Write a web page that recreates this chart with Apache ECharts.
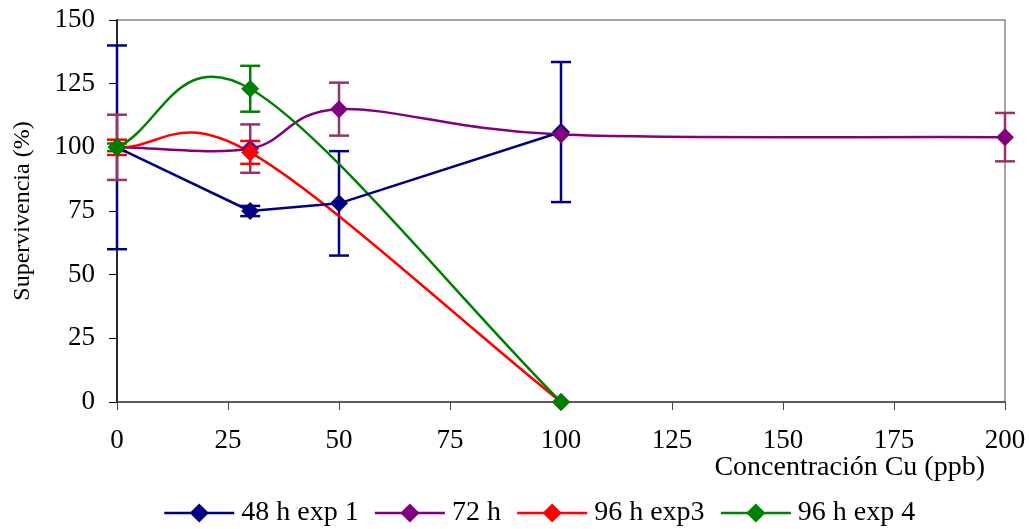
<!DOCTYPE html>
<html>
<head>
<meta charset="utf-8">
<script src="https://cdn.jsdelivr.net/npm/echarts@6/dist/echarts.min.js"></script>
<style>
  html, body { margin: 0; padding: 0; background: #fff; }
  #chart { width: 1029px; height: 529px; }
</style>
</head>
<body>
<div id="chart"></div>
<script>
// concentraciones (ppb) y supervivencia (%)
var conc48 = [0, 30, 50, 100]
var surv48 = [100, 75, 78, 106]
var err48 = [40, 2, 20.5, 27.5]

var conc72 = [0, 30, 50, 100, 200]
var surv72 = [100, 99.5, 115, 105, 104]
var err72 = [12.8, 9.5, 10.4, 0, 9.5]

var conc96a = [0, 30, 100]
var surv96a = [100, 98, 0]
var err96a = [3, 4.5, 0]

var conc96b = [0, 30, 100]
var surv96b = [100, 123, 0]
var err96b = [1.5, 9, 0]

var names = ['48 h exp 1', '72 h', '96 h exp3', '96 h exp 4']
var colors = ['#000080', '#800080', '#ff0000', '#008000']
var errColors = ['#000080', '#993366', '#ff0000', '#008000']

var FONT = '"Liberation Serif", "Times New Roman", serif'

function pairs(xs, ys) {
  return xs.map(function (x, i) { return [x, ys[i]] })
}
function errData(xs, ys, es) {
  var out = []
  for (var i = 0; i < xs.length; i++) {
    if (es[i] > 0) out.push([xs[i], ys[i] - es[i], ys[i] + es[i]])
  }
  return out
}

// barras de error
function errSeries(data, color) {
  return {
    type: 'custom',
    silent: true,
    z: 1,
    encode: { x: 0, y: [1, 2] },
    renderItem: function (params, api) {
      var x = api.value(0)
      var lo = api.coord([x, api.value(1)])
      var hi = api.coord([x, api.value(2)])
      var w = 10
      var st = { stroke: color, lineWidth: 2.5 }
      return {
        type: 'group',
        children: [
          { type: 'line', shape: { x1: lo[0], y1: lo[1], x2: hi[0], y2: hi[1] }, style: st },
          { type: 'line', shape: { x1: lo[0] - w, y1: lo[1], x2: lo[0] + w, y2: lo[1] }, style: st },
          { type: 'line', shape: { x1: hi[0] - w, y1: hi[1], x2: hi[0] + w, y2: hi[1] }, style: st }
        ]
      }
    },
    data: data
  }
}

// curva suavizada tipo Excel (bezier por tramo)
function curveSeries(data, color) {
  return {
    type: 'custom',
    silent: true,
    z: 2,
    clip: false,
    encode: { x: 0, y: 1 },
    renderItem: function (params, api) {
      var i = params.dataIndex
      var n = data.length
      if (i >= n - 1) return null
      var p = data.map(function (d) { return api.coord(d) })
      var p1 = p[i], p2 = p[i + 1]
      var t1, t2
      if (i > 0) t1 = [(p2[0] - p[i - 1][0]) / 6, (p2[1] - p[i - 1][1]) / 6]
      else t1 = [(p2[0] - p1[0]) / 3, (p2[1] - p1[1]) / 3]
      if (i + 2 < n) t2 = [(p[i + 2][0] - p1[0]) / 6, (p[i + 2][1] - p1[1]) / 6]
      else t2 = [(p2[0] - p1[0]) / 3, (p2[1] - p1[1]) / 3]
      return {
        type: 'bezierCurve',
        shape: {
          x1: p1[0], y1: p1[1], x2: p2[0], y2: p2[1],
          cpx1: p1[0] + t1[0], cpy1: p1[1] + t1[1],
          cpx2: p2[0] - t2[0], cpy2: p2[1] - t2[1]
        },
        style: { stroke: color, lineWidth: 2.5, fill: 'none' }
      }
    },
    data: data
  }
}

function lineSeries(name, data, color, showLine) {
  return {
    name: name,
    type: 'line',
    data: data,
    symbol: 'diamond',
    symbolSize: 18,
    z: 3,
    itemStyle: { color: color },
    lineStyle: { color: color, width: 2.5, opacity: showLine ? 1 : 0 }
  }
}

var chart = echarts.init(document.getElementById('chart'))

var option = {
  animation: false,
  backgroundColor: '#fff',
  grid: {
    left: 117, right: 24, top: 20, bottom: 127,
    show: true, borderColor: '#888', borderWidth: 1.5
  },
  legend: {
    top: 499,
    left: 163,
    padding: 0,
    itemWidth: 70,
    itemHeight: 24,
    itemGap: 15,
    textStyle: { fontFamily: FONT, fontSize: 28, color: '#000', padding: [0, 0, 0, 2] },
    data: names.map(function (nm, i) {
      return { name: nm, lineStyle: { color: colors[i], width: 2.5, opacity: 1 } }
    })
  },
  xAxis: {
    type: 'value',
    min: 0, max: 200, interval: 25,
    name: 'Concentración Cu (ppb)',
    nameLocation: 'end',
    nameGap: 0,
    nameTextStyle: {
      fontFamily: FONT, fontSize: 28, color: '#000',
      align: 'right', verticalAlign: 'top', padding: [52, 20, 0, 0]
    },
    axisLine: { onZero: false, lineStyle: { color: '#444', width: 1.5 } },
    axisTick: { show: true, length: 8, lineStyle: { color: '#444' } },
    axisLabel: {
      margin: 25, fontFamily: FONT, fontSize: 27, color: '#000',
      showMaxLabel: true, showMinLabel: true
    },
    splitLine: { show: false }
  },
  yAxis: {
    type: 'value',
    min: 0, max: 150, interval: 25,
    name: 'Supervivencia (%)',
    nameLocation: 'middle',
    nameGap: 82,
    nameRotate: 90,
    nameTextStyle: { fontFamily: FONT, fontSize: 24, color: '#000' },
    axisLine: { show: true, lineStyle: { color: '#000', width: 1.5 } },
    axisTick: { show: true, length: 8, lineStyle: { color: '#000' } },
    axisLabel: { margin: 22, fontFamily: FONT, fontSize: 27, color: '#000' },
    splitLine: { show: false }
  },
  series: [
    errSeries(errData(conc48, surv48, err48), errColors[0]),
    errSeries(errData(conc72, surv72, err72), errColors[1]),
    errSeries(errData(conc96a, surv96a, err96a), errColors[2]),
    errSeries(errData(conc96b, surv96b, err96b), errColors[3]),
    curveSeries(pairs(conc72, surv72), colors[1]),
    curveSeries(pairs(conc96a, surv96a), colors[2]),
    curveSeries(pairs(conc96b, surv96b), colors[3]),
    lineSeries(names[0], pairs(conc48, surv48), colors[0], true),
    lineSeries(names[1], pairs(conc72, surv72), colors[1], false),
    lineSeries(names[2], pairs(conc96a, surv96a), colors[2], false),
    lineSeries(names[3], pairs(conc96b, surv96b), colors[3], false)
  ]
}

chart.setOption(option)
</script>
</body>
</html>
